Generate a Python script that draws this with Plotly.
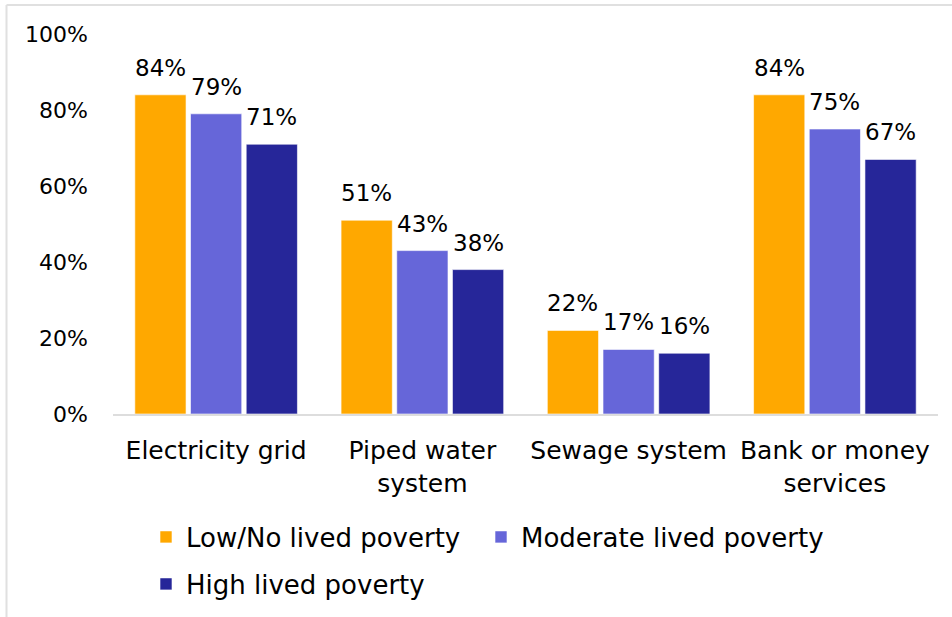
import plotly.graph_objects as go

categories = ["Electricity grid", "Piped water<br>system", "Sewage system", "Bank or money<br>services"]
series_names = ["Low/No lived poverty", "Moderate lived poverty", "High lived poverty"]
low_vals = [84, 51, 22, 84]
mod_vals = [79, 43, 17, 75]
high_vals = [71, 38, 16, 67]
colors = ["#FFA800", "#6666D9", "#262699"]
legend_ids = ["legend", "legend3", "legend2"]
y_ticks = [0, 20, 40, 60, 80, 100]
y_tick_labels = ["0%", "20%", "40%", "60%", "80%", "100%"]

FONT = "DejaVu Sans"
FS = 22
FS_LBL = 23
FS_CAT = 25
FS_LEG = 26
W, H = 952, 617
ML, MR, MT, MB = 113, 14, 34, 203
BARGAP = 0.19
BARGROUPGAP = 0.08

fig = go.Figure()
all_vals = [low_vals, mod_vals, high_vals]
for name, vals, col, lg in zip(series_names, all_vals, colors, legend_ids):
    fig.add_trace(go.Bar(
        x=categories, y=vals, name=name, legend=lg,
        marker=dict(color=col, line=dict(color="rgba(255,255,255,0.6)", width=1)),
    ))

# data labels above bars
slot = (1 - BARGAP) / 3
for j, vals in enumerate(all_vals):
    for i, v in enumerate(vals):
        fig.add_annotation(
            x=i + (j - 1) * slot, y=v, xref="x", yref="y",
            text=f"{v}%", showarrow=False, yanchor="bottom",
            yshift=12, font=dict(family=FONT, size=FS_LBL, color="#000000"),
        )

pw = W - ML - MR
ph = H - MT - MB
# outer chart border (left and top edges visible)
bx = (6.5 - ML) / pw
by = 1 + (MT - 5) / ph
fig.add_shape(type="line", xref="paper", yref="paper", x0=bx, x1=bx, y0=-MB / ph, y1=by,
              line=dict(color="#E0E0E0", width=2))
fig.add_shape(type="line", xref="paper", yref="paper", x0=bx, x1=1 + MR / pw, y0=by, y1=by,
              line=dict(color="#E0E0E0", width=2))

leg_font = dict(family=FONT, size=FS_LEG, color="#000000")
def leg(xpx, ypx):
    return dict(orientation="h", xref="container", yref="container",
                x=xpx / W, xanchor="left", y=1 - ypx / H, yanchor="middle",
                font=leg_font)

fig.update_layout(
    width=W, height=H,
    margin=dict(l=ML, r=MR, t=MT, b=MB, pad=0, autoexpand=False),
    paper_bgcolor="white", plot_bgcolor="white",
    barmode="group", bargap=BARGAP, bargroupgap=BARGROUPGAP,
    font=dict(family=FONT, size=FS, color="#000000"),
    showlegend=True,
    legend=leg(146, 537),
    legend3=leg(481, 537),
    legend2=leg(146, 584),
    xaxis=dict(
        showline=True, linecolor="#DDDDDD", linewidth=2, automargin=False,
        showgrid=False, ticks="", ticklabelstandoff=13,
        tickfont=dict(family=FONT, size=FS_CAT, color="#000000"),
    ),
    yaxis=dict(
        range=[0, 100], tickvals=y_ticks, ticktext=y_tick_labels, automargin=False,
        showgrid=False, zeroline=False, showline=False, ticks="",
        ticklabelstandoff=24,
        tickfont=dict(family=FONT, size=FS, color="#000000"),
    ),
)

fig.write_html("out.html")
